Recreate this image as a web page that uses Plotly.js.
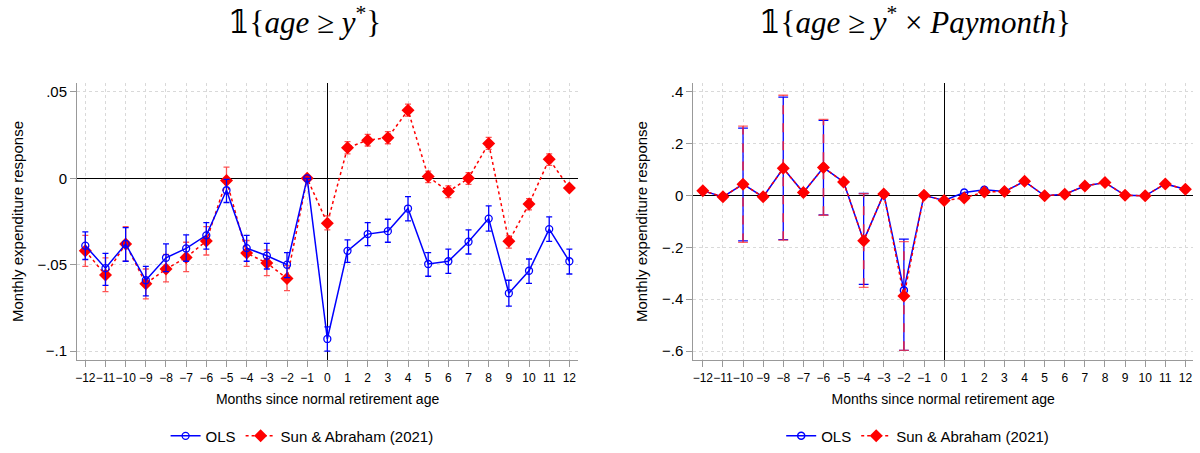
<!DOCTYPE html>
<html><head><meta charset="utf-8">
<script src="https://cdn.plot.ly/plotly-3.0.1.min.js"></script>
<style>body{margin:0;background:#fff}#c{width:1200px;height:453px}</style>
</head><body><div id="c"></div>
<script>
const months = [-12,-11,-10,-9,-8,-7,-6,-5,-4,-3,-2,-1,0,1,2,3,4,5,6,7,8,9,10,11,12];
const xTickLabels = ["−12","−11","−10","−9","−8","−7","−6","−5","−4","−3","−2","−1","0","1","2","3","4","5","6","7","8","9","10","11","12"];

// Left panel: 1{age >= y*}
const ols1   = [-0.039,-0.052,-0.038,-0.059,-0.046,-0.0406,-0.033,-0.0069,-0.0404,-0.0448,-0.050,0,-0.093,-0.042,-0.0323,-0.0306,-0.0175,-0.0496,-0.048,-0.0367,-0.0233,-0.0665,-0.0535,-0.0294,-0.048];
const ols1Hi = [-0.031,-0.0435,-0.0285,-0.051,-0.038,-0.0327,-0.0256,-0.0006,-0.033,-0.0377,-0.043,0,-0.086,-0.0356,-0.0256,-0.0237,-0.0106,-0.043,-0.041,-0.0298,-0.016,-0.059,-0.0467,-0.0223,-0.041];
const ols1Lo = [-0.047,-0.062,-0.048,-0.068,-0.054,-0.048,-0.041,-0.014,-0.048,-0.0525,-0.0575,0,-0.100,-0.0487,-0.039,-0.037,-0.0246,-0.0567,-0.055,-0.0438,-0.0306,-0.074,-0.0608,-0.0365,-0.0554];
const sa1    = [-0.042,-0.056,-0.038,-0.061,-0.0525,-0.0458,-0.0363,-0.0012,-0.0433,-0.049,-0.058,0,-0.026,0.0177,0.0221,0.0235,0.0394,0.001,-0.0077,0,0.0202,-0.0365,-0.0148,0.011,-0.0056];
const sa1Hi  = [-0.033,-0.046,-0.028,-0.0525,-0.044,-0.037,-0.028,0.0065,-0.036,-0.0415,-0.0505,0,-0.0217,0.0212,0.0254,0.027,0.0429,0.0042,-0.0044,0.0033,0.0237,-0.0333,-0.0117,0.0142,-0.0045];
const sa1Lo  = [-0.051,-0.0656,-0.048,-0.0698,-0.060,-0.054,-0.0444,-0.0088,-0.051,-0.0563,-0.065,0,-0.0298,0.0142,0.0187,0.020,0.036,-0.0025,-0.0112,-0.0035,0.0167,-0.0404,-0.0183,0.0075,-0.0067];

// Right panel: 1{age >= y* x Paymonth}
const ols2   = [0.019,-0.005,0.044,-0.005,0.105,0.0115,0.108,0.0526,-0.174,0.0064,-0.365,0.001,-0.019,0.0115,0.022,0.0154,0.055,-0.001,0.005,0.037,0.05,0.001,-0.001,0.045,0.024];
const ols2Hi = [null,null,0.260,null,0.380,null,0.290,null,0.008,null,-0.168,null,null,null,null,null,null,null,null,null,null,null,null,null,null];
const ols2Lo = [null,null,-0.175,null,-0.170,null,-0.075,null,-0.343,null,-0.597,null,null,null,null,null,null,null,null,null,null,null,null,null,null];
const sa2    = [0.019,-0.005,0.044,-0.005,0.105,0.0115,0.108,0.0526,-0.174,0.0064,-0.388,0.001,-0.019,-0.009,0.014,0.0154,0.055,-0.001,0.005,0.037,0.05,0.001,-0.001,0.045,0.024];
const sa2Hi  = [null,null,0.268,null,0.387,null,0.294,null,0.0077,null,-0.178,null,null,null,null,null,null,null,null,null,null,null,null,null,null];
const sa2Lo  = [null,null,-0.181,null,-0.172,null,-0.076,null,-0.354,null,-0.597,null,null,null,null,null,null,null,null,null,null,null,null,null,null];

const yTicks1 = [0.05,0,-0.05,-0.1], yLabels1 = [".05","0","−.05","−.1"];
const yTicks2 = [0.4,0.2,0,-0.2,-0.4,-0.6], yLabels2 = [".4",".2","0","−.2","−.4","−.6"];

const BLUE = "#0000ff", RED = "#ff0000";
const diff = (a,b)=>a.map((v,i)=>v==null?null:v-b[i]);

function ciSegments(lo, hi){
  const xs=[], ys=[];
  months.forEach((m,i)=>{ if(lo[i]!=null){ xs.push(m,m,null); ys.push(lo[i],hi[i],null);} });
  return {xs, ys};
}

const traces = [];
// left
traces.push({x:months,y:sa1,type:"scatter",mode:"lines+markers",name:"Sun & Abraham (2021)",legend:"legend",legendrank:2,
  line:{color:RED,width:1.5,dash:"dot"},marker:{symbol:"diamond",size:10,color:RED},
  error_y:{type:"data",symmetric:false,array:diff(sa1Hi,sa1),arrayminus:diff(sa1,sa1Lo),color:"rgba(255,40,40,0.8)",thickness:1.3,width:3},
  xaxis:"x",yaxis:"y"});
traces.push({x:months,y:ols1,type:"scatter",mode:"lines+markers",name:"OLS",legend:"legend",legendrank:1,
  line:{color:BLUE,width:1.5},marker:{symbol:"circle-open",size:7,color:BLUE,line:{width:1.3}},
  error_y:{type:"data",symmetric:false,array:diff(ols1Hi,ols1),arrayminus:diff(ols1,ols1Lo),color:BLUE,thickness:1.3,width:3},
  xaxis:"x",yaxis:"y"});
// right CIs
const cb = ciSegments(ols2Lo, ols2Hi), cr = ciSegments(sa2Lo, sa2Hi);
traces.push({x:cb.xs,y:cb.ys,type:"scatter",mode:"lines+markers",showlegend:false,hoverinfo:"skip",
  line:{color:BLUE,width:1.3},marker:{symbol:"line-ew",size:7,line:{width:1.3,color:BLUE}},xaxis:"x2",yaxis:"y2"});
traces.push({x:cr.xs,y:cr.ys,type:"scatter",mode:"lines+markers",showlegend:false,hoverinfo:"skip",
  line:{color:"rgba(235,30,60,0.9)",width:1.6,dash:"dash"},marker:{symbol:"line-ew",size:7,line:{width:1.3,color:"rgba(255,60,60,0.8)"}},xaxis:"x2",yaxis:"y2"});
traces.push({x:months,y:ols2,type:"scatter",mode:"lines+markers",name:"OLS",legend:"legend2",legendrank:1,
  line:{color:BLUE,width:1.5},marker:{symbol:"circle-open",size:7,color:BLUE,line:{width:1.5}},xaxis:"x2",yaxis:"y2"});
traces.push({x:months,y:sa2,type:"scatter",mode:"lines+markers",name:"Sun & Abraham (2021)",legend:"legend2",legendrank:2,
  line:{color:RED,width:1.5,dash:"dot"},marker:{symbol:"diamond",size:10,color:RED},xaxis:"x2",yaxis:"y2"});

const xBase = {tickmode:"array",tickvals:months,ticktext:xTickLabels,tickangle:0,tickfont:{size:12,color:"#000",family:"Liberation Sans, Arial"},
  ticks:"outside",ticklen:6,tickcolor:"#999",showline:true,linecolor:"#999",linewidth:1,
  showgrid:true,gridcolor:"#d9d9d9",griddash:"dot",gridwidth:1,
  zeroline:true,zerolinecolor:"#000",zerolinewidth:1,
  title:{text:"Months since normal retirement age",font:{size:14,color:"#000",family:"Liberation Sans, Arial"},standoff:10}};
const yBase = {tickmode:"array",tickfont:{size:15,color:"#000",family:"Liberation Sans, Arial"},
  ticks:"outside",ticklen:6,tickcolor:"#999",showline:true,linecolor:"#999",linewidth:1,
  showgrid:true,gridcolor:"#d9d9d9",griddash:"dot",gridwidth:1,
  zeroline:true,zerolinecolor:"#000",zerolinewidth:1,
  title:{text:"Monthly expenditure response",font:{size:15,color:"#000",family:"Liberation Sans, Arial"},standoff:10}};

const layout = {
  width:1200,height:453,paper_bgcolor:"#fff",plot_bgcolor:"#fff",
  margin:{l:0,r:0,t:0,b:0},showlegend:true,
  xaxis:Object.assign({},xBase,{domain:[0.0642,0.4817],range:[-12.41,12.43],anchor:"y"}),
  yaxis:Object.assign({},yBase,{domain:[0.2009,0.8168],range:[-0.1054,0.0554],tickvals:yTicks1,ticktext:yLabels1,anchor:"x"}),
  xaxis2:Object.assign({},xBase,{domain:[0.5778,0.9942],range:[-12.47,12.38],anchor:"y2"}),
  yaxis2:Object.assign({},yBase,{domain:[0.2009,0.8168],range:[-0.636,0.4358],tickvals:yTicks2,ticktext:yLabels2,anchor:"x2",zerolinecolor:"#000"}),
  legend:{orientation:"h",x:0.138,y:0.033,xanchor:"left",yanchor:"middle",font:{size:15,color:"#000",family:"Liberation Sans, Arial"},itemwidth:30,bgcolor:"rgba(0,0,0,0)"},
  legend2:{orientation:"h",x:0.651,y:0.033,xanchor:"left",yanchor:"middle",font:{size:15,color:"#000",family:"Liberation Sans, Arial"},itemwidth:30,bgcolor:"rgba(0,0,0,0)"},
  annotations:[
    {text:"𝟙{<i>age</i> ≥ <i>y</i><sup>*</sup>}",x:0.254,y:0.955,xref:"paper",yref:"paper",xanchor:"center",yanchor:"middle",showarrow:false,font:{size:31,color:"#000",family:"Liberation Serif, DejaVu Serif, serif"}},
    {text:"𝟙{<i>age</i> ≥ <i>y</i><sup>*</sup> × <i>Paymonth</i>}",x:0.7625,y:0.955,xref:"paper",yref:"paper",xanchor:"center",yanchor:"middle",showarrow:false,font:{size:31,color:"#000",family:"Liberation Serif, DejaVu Serif, serif"}}
  ]
};
Plotly.newPlot("c",traces,layout,{displayModeBar:false,staticPlot:true});
</script></body></html>
